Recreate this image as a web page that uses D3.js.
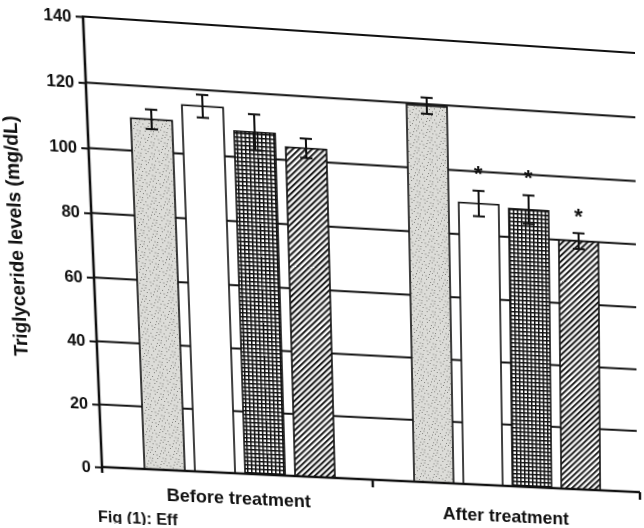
<!DOCTYPE html>
<html><head><meta charset="utf-8">
<script src="https://cdn.jsdelivr.net/npm/d3@7"></script>
<style>
html,body{margin:0;padding:0;background:#fff;overflow:hidden;width:644px;height:528px;}
#wrap{position:absolute;left:0;top:0;width:644px;height:528px;transform-origin:0 0;}
svg{display:block;}
text{font-family:"Liberation Sans",Arial,sans-serif;font-weight:bold;fill:#111;}
</style></head><body>
<div id="wrap"></div>
<script>
// ---- data ----
const periods = ["Before treatment", "After treatment"];
const groups = ["Group I", "Group II", "Group III", "Group IV"];
const beforeValues = [110, 115, 108, 104];
const beforeErrors = [3, 3.5, 5.5, 3];
const afterValues = [119.5, 90, 89, 80];
const afterErrors = [2.5, 4, 4.5, 2.5];
const beforeSignificant = [false, false, false, false];
const afterSignificant = [false, true, true, true];
const yTicks = [0, 20, 40, 60, 80, 100, 120, 140];
const yLabel = "Triglyceride levels (mg/dL)";
const caption = "Fig (1): Eff";

// ---- layout ----
const WIDTH = 644, HEIGHT = 528;
const M = {left: 90, top: 20};
const W = 540, H = 450;

const rows = [];
periods.forEach((p, pi) => {
  const vals = pi === 0 ? beforeValues : afterValues;
  const errs = pi === 0 ? beforeErrors : afterErrors;
  const sig = pi === 0 ? beforeSignificant : afterSignificant;
  groups.forEach((g, gi) => rows.push({period: p, group: g, gi, value: vals[gi], err: errs[gi], sig: sig[gi]}));
});

const svg = d3.select("#wrap").append("svg").attr("width", WIDTH).attr("height", HEIGHT);
const defs = svg.append("defs");

// stipple pattern (light grey speckled)
const st = defs.append("pattern").attr("id", "stipple").attr("patternUnits", "userSpaceOnUse").attr("width", 13).attr("height", 11);
st.append("rect").attr("width", 13).attr("height", 11).attr("fill", "#dcdcd8");
[[1,2],[5,7],[9,3],[11,9],[3,9],[7,1],[12,5],[6,4]].forEach(([x,y]) =>
  st.append("rect").attr("x", x).attr("y", y).attr("width", 1).attr("height", 1).attr("fill", "#7e7e7a"));
[[2,5],[8,8],[10,0]].forEach(([x,y]) =>
  st.append("rect").attr("x", x).attr("y", y).attr("width", 2).attr("height", 2).attr("fill", "#c2c2be"));

// grid (checked) pattern
const gp = defs.append("pattern").attr("id", "grid").attr("patternUnits", "userSpaceOnUse").attr("width", 4).attr("height", 4);
gp.append("rect").attr("width", 4).attr("height", 4).attr("fill", "#fff");
gp.append("path").attr("d", "M0,0.75H4M0.75,0V4").attr("stroke", "#111").attr("stroke-width", 1.5);

// diagonal hatch pattern
const hp = defs.append("pattern").attr("id", "hatch").attr("patternUnits", "userSpaceOnUse").attr("width", 4.2).attr("height", 4.2).attr("patternTransform", "rotate(45)");
hp.append("rect").attr("width", 4.2).attr("height", 4.2).attr("fill", "#fff");
hp.append("line").attr("x1", 1).attr("x2", 1).attr("y1", 0).attr("y2", 4.2).attr("stroke", "#111").attr("stroke-width", 1.9);

const fills = ["url(#stipple)", "#fff", "url(#grid)", "url(#hatch)"];

const g = svg.append("g").attr("transform", `translate(${M.left},${M.top})`);

const x0 = d3.scaleBand().domain(periods).range([0, W]);
const x1 = d3.scaleBand().domain(groups).range([42, 232]).paddingInner(0.2);
const y = d3.scaleLinear().domain([0, 140]).range([H, 0]);

// gridlines
g.append("g").selectAll("line").data(yTicks.filter(t => t > 0)).join("line")
  .attr("x1", 0).attr("x2", W).attr("y1", d => y(d)).attr("y2", d => y(d))
  .attr("stroke", "#111").attr("stroke-width", 2);

// bars
g.append("g").selectAll("rect").data(rows).join("rect")
  .attr("x", d => x0(d.period) + x1(d.group))
  .attr("y", d => y(d.value))
  .attr("width", x1.bandwidth())
  .attr("height", d => y(0) - y(d.value))
  .attr("fill", d => fills[d.gi])
  .attr("stroke", "#111").attr("stroke-width", 1.6);

// error bars
const eb = g.append("g").attr("stroke", "#111").attr("stroke-width", 2);
rows.forEach(d => {
  const cx = x0(d.period) + x1(d.group) + x1.bandwidth() / 2;
  eb.append("line").attr("x1", cx).attr("x2", cx).attr("y1", y(d.value + d.err)).attr("y2", y(d.value - d.err));
  eb.append("line").attr("x1", cx - 6).attr("x2", cx + 6).attr("y1", y(d.value + d.err)).attr("y2", y(d.value + d.err));
  eb.append("line").attr("x1", cx - 6).attr("x2", cx + 6).attr("y1", y(d.value - d.err)).attr("y2", y(d.value - d.err));
});

// significance stars
g.append("g").selectAll("text").data(rows.filter(d => d.sig)).join("text")
  .attr("x", d => x0(d.period) + x1(d.group) + x1.bandwidth() / 2)
  .attr("y", d => y(d.value + d.err) - 10)
  .attr("text-anchor", "middle").style("font-size", "22px").text("*");

// y axis
const yAxis = g.append("g").call(d3.axisLeft(y).tickValues(yTicks).tickSize(7).tickPadding(4));
yAxis.select(".domain").remove();
yAxis.selectAll(".tick line").attr("stroke", "#111").attr("stroke-width", 2);
yAxis.selectAll(".tick text").style("font-size", "16px").style("font-family", "'Liberation Sans',Arial,sans-serif").style("font-weight", "bold").attr("fill", "#111");
g.append("line").attr("x1", 0).attr("x2", 0).attr("y1", -1).attr("y2", H + 6).attr("stroke", "#111").attr("stroke-width", 2.5);

// x axis
g.append("line").attr("x1", -1).attr("x2", W + 3).attr("y1", H).attr("y2", H).attr("stroke", "#111").attr("stroke-width", 2.5);
g.append("g").selectAll("line").data([W / 2, W + 3]).join("line")
  .attr("x1", d => d).attr("x2", d => d).attr("y1", H).attr("y2", H + 8)
  .attr("stroke", "#111").attr("stroke-width", 2.5);

// category labels
g.append("g").selectAll("text").data(periods).join("text")
  .attr("x", d => x0(d) + x0.bandwidth() / 2)
  .attr("y", (d, i) => H + (i === 0 ? 32 : 38))
  .attr("text-anchor", "middle").style("font-size", "18px").text(d => d);

// y axis title
g.append("text").attr("transform", `translate(-68,${H / 2 - 4}) rotate(-90)`)
  .attr("text-anchor", "middle").style("font-size", "19px").text(yLabel);

// caption (at the bottom edge of the page)
g.append("text").attr("x", -6).attr("y", H + 57).style("font-size", "16px").text(caption);

// ---- photographed-page perspective ----
const src = [[M.left, M.top], [M.left, M.top + H], [M.left + W, M.top + H], [M.left + W, M.top]];
const dst = [[83, 16.5], [102, 467], [637, 492], [635, 53]];
function solve(A, b) {
  const n = b.length;
  for (let i = 0; i < n; i++) {
    let p = i;
    for (let r = i + 1; r < n; r++) if (Math.abs(A[r][i]) > Math.abs(A[p][i])) p = r;
    [A[i], A[p]] = [A[p], A[i]]; [b[i], b[p]] = [b[p], b[i]];
    for (let r = i + 1; r < n; r++) {
      const f = A[r][i] / A[i][i];
      for (let c = i; c < n; c++) A[r][c] -= f * A[i][c];
      b[r] -= f * b[i];
    }
  }
  const xs = new Array(n);
  for (let i = n - 1; i >= 0; i--) {
    let s = b[i];
    for (let c = i + 1; c < n; c++) s -= A[i][c] * xs[c];
    xs[i] = s / A[i][i];
  }
  return xs;
}
const A = [], B = [];
for (let i = 0; i < 4; i++) {
  const [px, py] = src[i], [u, v] = dst[i];
  A.push([px, py, 1, 0, 0, 0, -px * u, -py * u]); B.push(u);
  A.push([0, 0, 0, px, py, 1, -px * v, -py * v]); B.push(v);
}
const h = solve(A, B);
document.getElementById("wrap").style.transform =
  `matrix3d(${h[0]},${h[3]},0,${h[6]},${h[1]},${h[4]},0,${h[7]},0,0,1,0,${h[2]},${h[5]},0,1)`;
</script>
</body></html>
